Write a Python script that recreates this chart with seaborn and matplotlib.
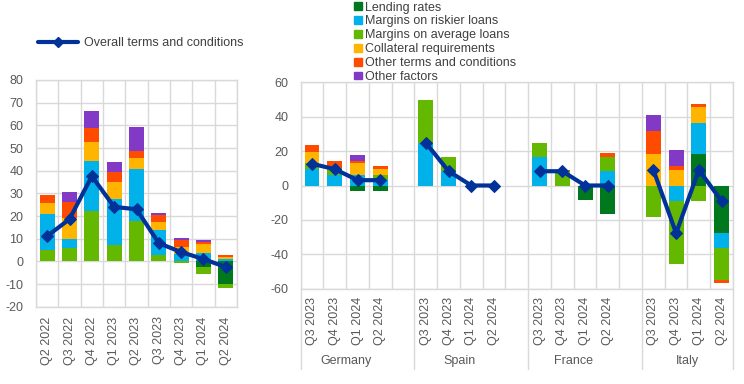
import numpy as np
import pandas as pd
import matplotlib
matplotlib.use("Agg")
import matplotlib.pyplot as plt
import matplotlib.transforms as mtransforms
from matplotlib.lines import Line2D
from matplotlib.patches import Patch
import seaborn as sns

# ---- data: euro area (left panel) ----
left_quarters = ["Q2 2022", "Q3 2022", "Q4 2022", "Q1 2023", "Q2 2023",
                 "Q3 2023", "Q4 2023", "Q1 2024", "Q2 2024"]
left_lending = [0, 0, 0, 0, 0, 0, 0, -2.5, -10.0]
left_riskier = [16.0, 4.0, 22.1, 20.4, 22.9, 11.0, 3.3, 3.6, 0.9]
left_average = [5.0, 5.7, 22.1, 7.1, 17.7, 2.7, -0.6, -3.2, -1.8]
left_collateral = [4.8, 9.4, 8.4, 7.4, 4.9, 3.5, 3.0, 4.1, 0.9]
left_other_terms = [3.3, 7.0, 6.3, 4.6, 3.1, 3.1, 3.0, 0.8, 0.9]
left_other_factors = [0.3, 4.4, 7.4, 4.2, 10.6, 0.9, 0.9, 0.8, 0.0]
left_overall = [11.2, 18.6, 37.6, 24.0, 23.0, 8.0, 4.1, 1.0, -2.5]

# ---- data: countries (right panel) ----
countries = ["Germany", "Spain", "France", "Italy"]
quarters = ["Q3 2023", "Q4 2023", "Q1 2024", "Q2 2024"]
lending = {"Germany": [0, 0, -3.3, -3.3], "Spain": [0, 0, 0, 0],
           "France": [0, 0, -8.5, -16.6], "Italy": [0, 0, 18.2, -27.7]}
riskier = {"Germany": [9.5, 6.2, 6.0, 3.1], "Spain": [24.8, 8.3, 0, 0],
           "France": [16.4, 0, 0, 8.3], "Italy": [0, -9.1, 18.0, -8.5]}
average = {"Germany": [3.5, 4.2, 0, 2.9], "Spain": [24.7, 8.1, 0, 0],
           "France": [8.1, 8.3, 0, 8.1], "Italy": [-18.2, -36.4, -9.1, -18.7]}
collateral = {"Germany": [6.3, 0, 7.0, 3.6], "Spain": [0, 0, 0, 0],
              "France": [0, 0, 0, 0], "Italy": [18.2, 8.9, 9.3, 0]}
other_terms = {"Germany": [4.1, 3.7, 1.1, 1.5], "Spain": [0, 0, 0, 0],
               "France": [0, 0.9, 0, 2.3], "Italy": [13.3, 2.3, 1.7, -1.6]}
other_factors = {"Germany": [0, 0, 3.5, 0], "Spain": [0, 0, 0, 0],
                 "France": [0, 0, 0, 0], "Italy": [9.3, 9.3, 0, 0]}
overall = {"Germany": [12.6, 9.5, 3.1, 3.1], "Spain": [24.8, 8.3, 0, 0],
           "France": [8.3, 8.3, 0, 0], "Italy": [9.1, -27.7, 9.1, -9.1]}

factor_names = ["Lending rates", "Margins on riskier loans", "Margins on average loans",
                "Collateral requirements", "Other terms and conditions", "Other factors"]
factor_colors = ["#00781e", "#00b1ea", "#65b800", "#ffb400", "#ff4b00", "#8139c6"]
line_color = "#003299"
grid_color = "#d9d9d9"
text_color = "#595959"

sns.set_style("white")
plt.rcParams['font.family'] = ['Liberation Sans', 'DejaVu Sans']
plt.rcParams['font.size'] = 9
plt.rcParams['axes.unicode_minus'] = False

fig = plt.figure(figsize=(7.44, 3.84), dpi=100)
W, H = 744, 384
ax1 = fig.add_axes([36 / W, 1 - 306.7 / H, (237 - 36) / W, (306.7 - 80) / H])
ax2 = fig.add_axes([300.7 / W, 1 - 288.7 / H, (733 - 300.7) / W, (288.7 - 82.3) / H])


def stacked(ax, x, series, colors, width):
    pos = np.zeros(len(x))
    neg = np.zeros(len(x))
    for vals, col in zip(series, colors):
        vals = np.asarray(vals, dtype=float)
        bottom = np.where(vals >= 0, pos, neg)
        ax.bar(x, vals, width=width, bottom=bottom, color=col, zorder=2, linewidth=0)
        pos = pos + np.clip(vals, 0, None)
        neg = neg + np.clip(vals, None, 0)


def style_axis(ax):
    for sp in ax.spines.values():
        sp.set_color(grid_color)
        sp.set_linewidth(1)
    ax.grid(True, which="major", axis="y", color=grid_color, lw=1, zorder=0)
    ax.grid(True, which="minor", axis="x", color=grid_color, lw=1, zorder=0)
    ax.tick_params(axis="both", which="both", length=0, colors=text_color, labelsize=9)
    ax.set_xlabel("")
    ax.set_ylabel("")


# ---- left panel (average margins stacked below riskier margins) ----
xl = np.arange(len(left_quarters))
c = factor_colors
stacked(ax1, xl, [left_lending, left_average, left_riskier, left_collateral,
                  left_other_terms, left_other_factors],
        [c[0], c[2], c[1], c[3], c[4], c[5]], 0.67)
sns.lineplot(x=xl, y=left_overall, ax=ax1, color=line_color, lw=3, marker="D",
             markersize=6, markeredgecolor=line_color, zorder=3)
ax1.set_xlim(-0.5, len(left_quarters) - 0.5)
ax1.set_ylim(-20, 80)
ax1.set_yticks(np.arange(-20, 81, 10))
ax1.set_xticks(xl)
ax1.set_xticklabels(left_quarters, rotation=90)
ax1.set_xticks(np.arange(-0.5, len(left_quarters), 1), minor=True)
style_axis(ax1)
ax1.tick_params(axis="y", pad=9)
ax1.tick_params(axis="x", pad=7)

# ---- right panel ----
slot = 0
tick_pos, tick_lab, seps, centers = [], [], [-0.5], []
for ctry in countries:
    x = np.arange(slot, slot + len(quarters))
    stacked(ax2, x, [lending[ctry], riskier[ctry], average[ctry], collateral[ctry],
                     other_terms[ctry], other_factors[ctry]], factor_colors, 0.65)
    sns.lineplot(x=x, y=overall[ctry], ax=ax2, color=line_color, lw=3, marker="D",
                 markersize=6, markeredgecolor=line_color, zorder=3)
    tick_pos.extend(x)
    tick_lab.extend(quarters)
    centers.append(x.mean())
    slot += len(quarters) + 1
    seps.append(slot - 0.5 if ctry != countries[-1] else slot - 1.5)

ax2.set_xlim(-0.5, seps[-1])
ax2.set_ylim(-60, 60)
ax2.set_yticks(np.arange(-60, 61, 20))
ax2.set_xticks(tick_pos)
ax2.set_xticklabels(tick_lab, rotation=90)
ax2.set_xticks(np.arange(-0.5, seps[-1] + 0.1, 1), minor=True)
style_axis(ax2)
ax2.tick_params(axis="y", pad=9)
ax2.tick_params(axis="x", pad=6)

trans = mtransforms.blended_transform_factory(ax2.transData, ax2.transAxes)
for s in seps:
    ax2.plot([s, s], [0, -0.39], transform=trans, color=grid_color, lw=1, clip_on=False)
for cx, ctry in zip(centers, countries):
    ax2.text(cx, -0.35, ctry, transform=trans, ha="center", va="center",
             color=text_color, fontsize=9)

# ---- legends ----
fig.legend(handles=[Line2D([], [], color=line_color, lw=3, marker="D", markersize=5)],
           labels=["Overall terms and conditions"], loc="center left",
           bbox_to_anchor=(38 / W, 1 - 43 / H), frameon=False, borderpad=0,
           borderaxespad=0, handlelength=3.2, handletextpad=0.5, fontsize=9,
           labelcolor="#404040")

fig.legend(handles=[Patch(color=col) for col in factor_colors], labels=factor_names,
           loc="upper left", bbox_to_anchor=(354 / W, 1 - 1.5 / H), frameon=False,
           borderpad=0, borderaxespad=0, handlelength=0.6, handleheight=0.6,
           handletextpad=0.3, labelspacing=0.15, fontsize=9, labelcolor="#404040")

fig.savefig("out.png", dpi=100)
